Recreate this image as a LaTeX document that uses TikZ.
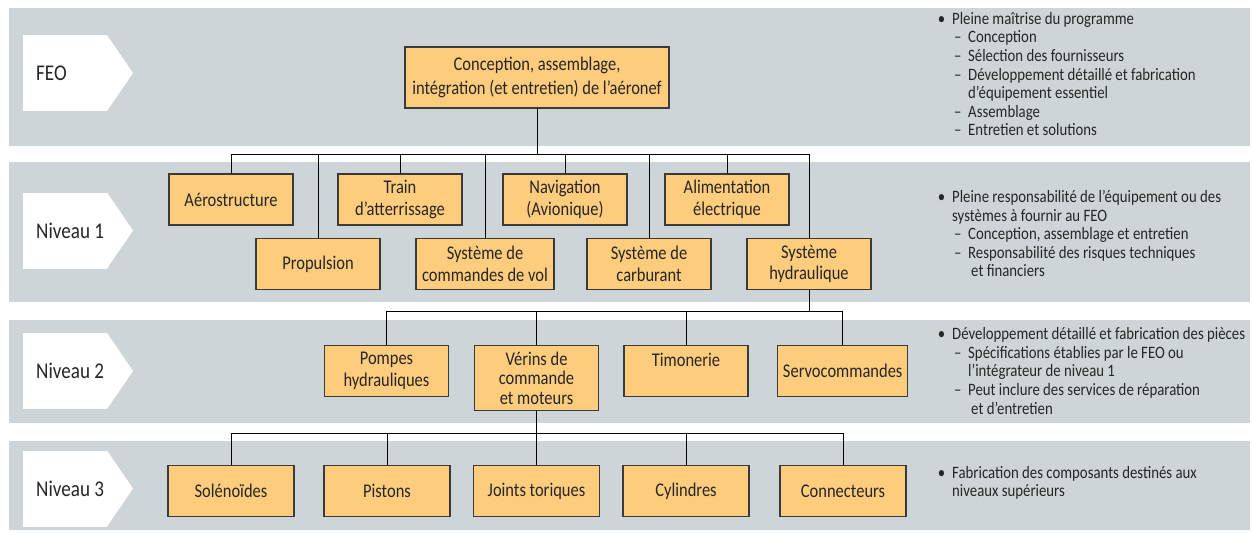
\documentclass[tikz,border=0pt]{standalone}
\usepackage{fontspec}
\setmainfont[FakeStretch=0.85]{Carlito}
\usepackage{xcolor}
\usepackage{tikz}
\usetikzlibrary{positioning}

\definecolor{bandgray}{HTML}{CDD5D8}
\definecolor{boxfill}{HTML}{FDCC7D}
\definecolor{boxline}{HTML}{3A3A3A}
\definecolor{inkgray}{HTML}{262626}

\newcommand{\puce}{\llap{\textbullet\hspace{7pt}}}
\newcommand{\tiret}{\hspace*{2pt}\makebox[14pt][l]{–}}
\newcommand{\suite}{\hspace*{16pt}}

\begin{document}
\begin{tikzpicture}[x=1pt, y=-1pt, text=inkgray,
    box/.style={draw=boxline, fill=boxfill, line width=1.3pt, minimum width=124, minimum height=51, align=center, inner sep=1pt, font=\fontsize{19.4}{21.5}\selectfont},
    band/.style={fill=bandgray},
    lvl/.style={fill=white, minimum width=84, minimum height=76, inner sep=0, outer sep=0},
    note/.style={anchor=north west, align=left, inner sep=0, font=\fontsize{17.4}{18.6}\selectfont},
    link/.style={draw=black, line width=1pt}]

    \useasboundingbox (0,0) rectangle (1252,533);

    % Bands
    \fill[band] (9,8) rectangle (1250,146);
    \fill[band] (9,162) rectangle (1250,302);
    \fill[band] (9,320) rectangle (1250,423);
    \fill[band] (9,441) rectangle (1250,530);

    % Level labels
    \foreach \nm/\yy/\txt in {feo/73/FEO, niv1/230.5/Niveau 1, niv2/371/Niveau 2, niv3/488.5/Niveau 3} {
        \node[lvl] (\nm-label) at (65,\yy) {};
        \fill[white] (\nm-label.north east) -- ++(26,38) -- (\nm-label.south east) -- cycle;
        \node[anchor=west, inner sep=0, font=\fontsize{22.5}{24}\selectfont] (\nm-text) at ([xshift=13]\nm-label.west) {\txt};
    }

    % FEO
    \node[box, minimum width=264, minimum height=61, font=\fontsize{19.4}{24.5}\selectfont] (aeronef) at (537,77.5) {Conception, assemblage,\\intégration (et entretien) de l’aéronef};

    % Niveau 1
    \node[box] (aero) at (231,199.5) {Aérostructure};
    \node[box] (train) at (400,199.5) {Train\\d’atterrissage};
    \node[box] (navig) at (565,199.5) {Navigation\\(Avionique)};
    \node[box] (alim) at (727,199.5) {Alimentation\\électrique};
    \node[box] (propu) at (318,264) {Propulsion};
    \node[box, minimum width=138] (cdv) at (485,264) {Système de\\commandes de vol};
    \node[box] (carbu) at (649,264) {Système de\\carburant};
    \node[box] (hydro) at (809,264) {Système\\hydraulique};

    % Niveau 2
    \node[box] (pompes) at (386.5,371) {Pompes\\hydrauliques};
    \node[box, minimum height=65, font=\fontsize{19.4}{19.5}\selectfont] (verins) at (536.5,378.2) {Vérins de\\commande\\et moteurs};
    \node[box] (timon) at (686,371) {Timonerie\\\mbox{}};
    \node[box, minimum width=130] (servo) at (842.7,371) {Servocommandes};

    % Niveau 3
    \foreach \nm/\xx/\txt in {sole/231/Solénoïdes, pist/387/Pistons, joint/536.5/Joints toriques, cyl/686/Cylindres, conn/843/Connecteurs}
        \node[box, minimum width=126] (\nm) at (\xx,491) {\txt};

    % Links FEO -> niveau 1
    \coordinate (bus1) at (537,154);
    \draw[link] (aeronef.south) -- (bus1);
    \draw[link] (aero.north |- bus1) -- (hydro.north |- bus1);
    \foreach \b in {aero,train,navig,alim,propu,cdv,carbu,hydro}
        \draw[link] (\b.north |- bus1) -- (\b.north);

    % Links niveau 1 -> niveau 2
    \coordinate (bus2) at (809,311);
    \draw[link] (hydro.south) -- (bus2);
    \draw[link] (pompes.north |- bus2) -- (servo.north |- bus2);
    \foreach \b in {pompes,verins,timon,servo}
        \draw[link] (\b.north |- bus2) -- (\b.north);

    % Links niveau 2 -> niveau 3
    \coordinate (bus3) at (536.5,433);
    \draw[link] (verins.south) -- (bus3);
    \draw[link] (sole.north |- bus3) -- (conn.north |- bus3);
    \foreach \b in {sole,pist,joint,cyl,conn}
        \draw[link] (\b.north |- bus3) -- (\b.north);

    % Notes
    \node[note] (note-feo) at (952,12) {\puce Pleine maîtrise du programme\\
        \tiret Conception\\
        \tiret Sélection des fournisseurs\\
        \tiret Développement détaillé et fabrication\\
        \suite d’équipement essentiel\\
        \tiret Assemblage\\
        \tiret Entretien et solutions};
    \node[note] (note-niv1) at (952,190) {\puce Pleine responsabilité de l’équipement ou des\\
        systèmes à fournir au FEO\\
        \tiret Conception, assemblage et entretien\\
        \tiret Responsabilité des risques techniques\\
        \hspace*{19pt}et financiers};
    \node[note] (note-niv2) at (952,327.5) {\puce Développement détaillé et fabrication des pièces\\
        \tiret Spécifications établies par le FEO ou\\
        \suite l’intégrateur de niveau 1\\
        \tiret Peut inclure des services de réparation\\
        \hspace*{19pt}et d’entretien};
    \node[note] (note-niv3) at (952,466) {\puce Fabrication des composants destinés aux\\
        niveaux supérieurs};
\end{tikzpicture}
\end{document}
